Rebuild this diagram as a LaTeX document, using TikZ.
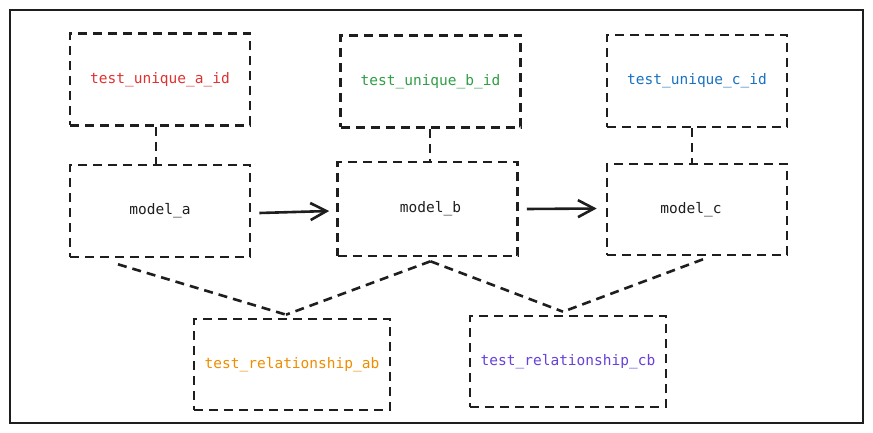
\documentclass[tikz,border=0pt]{standalone}
\usepackage{fontspec}
\setmonofont{DejaVu Sans Mono}
\usetikzlibrary{arrows.meta}
\definecolor{ink}{HTML}{1E1E1E}
\definecolor{cred}{HTML}{E03131}
\definecolor{cgreen}{HTML}{2F9E44}
\definecolor{cblue}{HTML}{1971C2}
\definecolor{corange}{HTML}{F08C00}
\definecolor{cviolet}{HTML}{6741D9}
\newcommand{\lbl}{\fontsize{14.5}{17}\selectfont\ttfamily}

\begin{document}
\begin{tikzpicture}[x=1pt,y=-1pt,
    dline/.style={draw=ink,line width=2.6pt,dash pattern=on 9pt off 6pt},
    tbox/.style={dline,minimum width=180pt,minimum height=92pt,inner sep=0pt,font=\lbl,text=ink},
    rbox/.style={tbox,minimum width=196pt,minimum height=91pt},
    flow/.style={draw=ink,line width=2.6pt,-{Straight Barb[length=16pt,width=17pt,line width=2.6pt]}}]
      \useasboundingbox (0,0) rectangle (873,433);
      \draw[ink,line width=2pt] (10,10) rectangle (863,423);
      % unique tests
      \node[tbox,text=cred]   (ua) at (160,79.5) {\raisebox{-2pt}{test\_unique\_a\_id}};
      \node[tbox,text=cgreen] (ub) at (430.5,81.5) {\raisebox{-1pt}{test\_unique\_b\_id}};
      \node[tbox,text=cblue]  (uc) at (697,81) {\raisebox{-1pt}{test\_unique\_c\_id}};
      % models
      \node[tbox] (ma) at (160,211) {\raisebox{-1pt}{model\_a}};
      \node[tbox,minimum height=94pt] (mb) at (427.5,209) {\hspace*{6pt}\raisebox{-2pt}{model\_b}};
      \node[tbox,minimum height=91pt] (mc) at (697,209.5) {\raisebox{-1pt}{model\_c}\hspace*{12pt}};
      % relationship tests
      \node[rbox,text=corange] (rab) at (292,364.5) {\raisebox{-1pt}{test\_relationship\_ab}};
      \node[rbox,text=cviolet] (rcb) at (568,361.5) {\raisebox{-1pt}{test\_relationship\_cb}};
      % links
      \draw[dline] ([xshift=-4pt]ua.south) -- ([xshift=-4pt]ma.north);
      \draw[dline] ([xshift=-0.5pt]ub.south) -- ([xshift=2.5pt]mb.north);
      \draw[dline] ([xshift=-5pt]uc.south) -- ([xshift=-5pt]mc.north);
      \draw[flow] ([xshift=8pt,yshift=-2pt]ma.east) -- ([xshift=-7pt,yshift=-2pt]mb.west);
      \draw[flow] ([xshift=8pt]mb.east) -- ([xshift=-9pt,yshift=1pt]mc.west);
      \draw[dline] ([xshift=-42pt,yshift=-6pt]ma.south) -- ([xshift=-6pt,yshift=3pt]rab.north);
      \draw[dline] ([xshift=3pt,yshift=-4pt]mb.south) -- ([xshift=-6pt,yshift=3pt]rab.north);
      \draw[dline] ([xshift=3pt,yshift=-4pt]mb.south) -- ([xshift=-5pt,yshift=3pt]rcb.north);
      \draw[dline] ([xshift=6pt,yshift=-3pt]mc.south) -- ([xshift=-5pt,yshift=3pt]rcb.north);
\end{tikzpicture}
\end{document}
